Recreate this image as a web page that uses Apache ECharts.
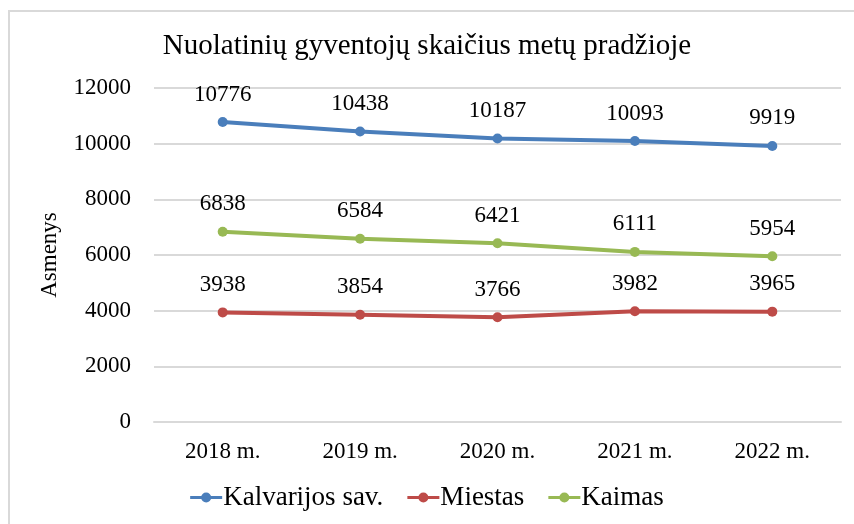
<!DOCTYPE html>
<html><head><meta charset="utf-8">
<script src="https://cdn.jsdelivr.net/npm/echarts@6/dist/echarts.min.js"></script>
<style>html,body{margin:0;padding:0;background:#fff}#c{width:854px;height:524px}</style>
</head><body><div id="c"></div>
<script>
const categories = ['2018 m.', '2019 m.', '2020 m.', '2021 m.', '2022 m.'];
const kalvarijos = [10776, 10438, 10187, 10093, 9919];
const miestas = [3938, 3854, 3766, 3982, 3965];
const kaimas = [6838, 6584, 6421, 6111, 5954];
const seriesNames = ['Kalvarijos sav.', 'Miestas', 'Kaimas'];
const colors = ['#4a7ebb', '#be4b48', '#98b954'];

const font = '"Liberation Serif", "Times New Roman", serif';
const chart = echarts.init(document.getElementById('c'));
function mk(name, data, color) {
  return {
    name, type: 'line', data, color,
    symbol: 'circle', symbolSize: 10,
    lineStyle: { width: 4, color },
    itemStyle: { color },
    label: { show: true, position: 'top', distance: 11, color: '#000', fontFamily: font, fontSize: 23 },
    animation: false
  };
}
chart.setOption({
  animation: false,
  graphic: [{ type: 'rect', shape: { x: 9, y: 11, width: 900, height: 600 }, style: { fill: 'none', stroke: '#d9d9d9', lineWidth: 2 }, silent: true }],
  title: { text: 'Nuolatinių gyventojų skaičius metų pradžioje', left: 'center', top: 27, padding: [5, 5, 5, 25],
    textStyle: { fontFamily: font, fontSize: 29, fontWeight: 'normal', color: '#000' } },
  legend: { bottom: 8, left: 'center', itemWidth: 32, itemHeight: 10, itemGap: 24, padding: [5, 5, 5, 23],
    textStyle: { fontFamily: font, fontSize: 27, color: '#000', padding: [0,0,0,-4] },
    data: seriesNames.map(n => ({ name: n, icon: 'path://M0,3.5H32V6.5H0Z M21,5A5,5,0,1,1,11,5A5,5,0,1,1,21,5Z' })) },
  grid: { left: 154, right: 13, top: 88, bottom: 102 },
  xAxis: { type: 'category', data: categories, boundaryGap: true,
    axisLine: { show: true, lineStyle: { color: '#d9d9d9', width: 2 } },
    axisTick: { show: false },
    axisLabel: { fontFamily: font, fontSize: 23, color: '#000', margin: 18 } },
  yAxis: { type: 'value', min: 0, max: 12000, interval: 2000,
    name: 'Asmenys', nameLocation: 'middle', nameGap: 93, nameRotate: 90,
    nameTextStyle: { fontFamily: font, fontSize: 23, color: '#000' },
    axisLine: { show: false }, axisTick: { show: false },
    splitLine: { lineStyle: { color: '#d9d9d9', width: 2 } },
    axisLabel: { fontFamily: font, fontSize: 23, color: '#000', margin: 23, formatter: v => String(v) } },
  series: [mk(seriesNames[0], kalvarijos, colors[0]), mk(seriesNames[1], miestas, colors[1]), mk(seriesNames[2], kaimas, colors[2])]
});
</script></body></html>
